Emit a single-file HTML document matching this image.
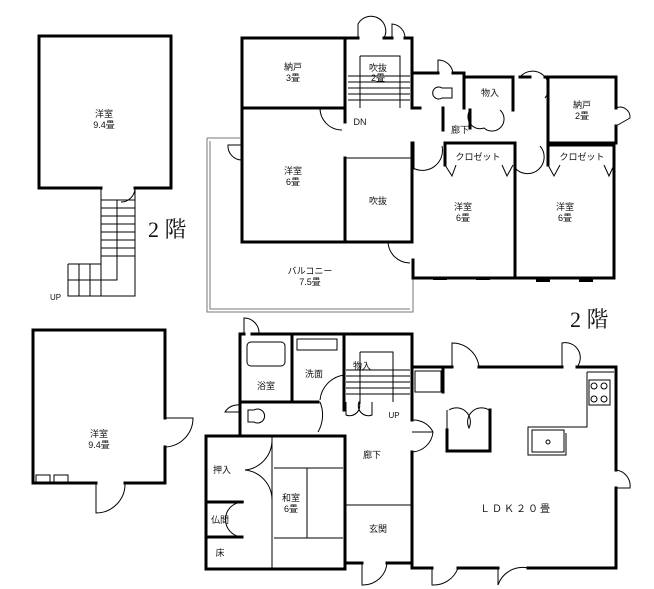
<!DOCTYPE html>
<html><head><meta charset="utf-8"><style>
html,body{margin:0;padding:0;background:#fff;}
svg{display:block;}
text{font-family:"Liberation Sans","Noto Sans CJK JP",sans-serif;fill:#111;}
text.big{font-family:"Liberation Serif","Noto Serif CJK SC",serif;}
.w{stroke:#000;stroke-width:3;fill:none;stroke-linecap:square;}
.t{stroke:#000;stroke-width:1;fill:none;}
.g{stroke:#777;stroke-width:1;fill:none;}
</style></head><body>
<svg width="654" height="589" viewBox="0 0 654 589" xmlns="http://www.w3.org/2000/svg">
<rect width="654" height="589" fill="#fff"/>

<!-- Left top plan -->
<path class="w" d="M101,188 L39,188 L39,36 L171,36 L171,188 L135,188"/>
<path class="t" d="M101,188 V296 H135 V188"/>
<path class="t" d="M68,264 H101 M68,264 V296 H101 M79,264 V296 M90,264 V296 M68,280 H101"/>
<path class="t" d="M101,200 H135 M101,208 H135 M101,216 H135 M101,224 H135 M101,232 H135 M101,240 H135 M101,248 H135 M101,256 H135 M117,200 V280 H101"/>
<path class="t" d="M135,188 A14,14 0 0 1 121,202"/>
<text x="104" y="117" font-size="9" text-anchor="middle">洋室</text>
<text x="104" y="128" font-size="9" text-anchor="middle">9.4畳</text>
<text x="50" y="300" font-size="8">UP</text>
<text class="big" x="148" y="237" font-size="22">2 階</text>

<!-- Left bottom plan -->
<path class="w" d="M165,447 V483 H125 M96,483 H33 V330 H165 V418"/>
<path class="t" d="M165,418 H193 A29,29 0 0 1 165,447"/>
<path class="t" d="M96,483 V513 A29,29 0 0 0 125,483"/>
<rect class="t" x="36" y="475" width="14" height="9"/><rect class="t" x="54" y="475" width="14" height="9"/>
<text x="99" y="437" font-size="9" text-anchor="middle">洋室</text>
<text x="99" y="448" font-size="9" text-anchor="middle">9.4畳</text>

<!-- 2F main -->
<path class="g" d="M207,138 V312 H413 V262 M210,141 V309 H410"/>
<path class="g" d="M207,138 H240"/>
<path class="w" d="M242,38 H345 V108 M242,38 V242 H345 M242,108 H345"/>
<path class="w" d="M345,38 H358 M384,38 H392 M405,38 H412 V108"/>
<path class="t" d="M358,38 V24 A14,14 0 0 1 384,38 M392,38 V24 A14,14 0 0 1 405,38"/>
<path class="w" d="M345,158 V242 H412 V143 M345,122 V108"/>
<path class="t" d="M346,158 H412"/>
<path class="t" d="M360,56 H400 V108 M348,76 H410 M348,82 H410 M348,88 H410 M348,94 H410 M348,100 H410 M360,56 V108"/>
<text x="378" y="71" font-size="9" text-anchor="middle">吹抜</text>
<text x="378" y="81" font-size="9" text-anchor="middle">2畳</text>
<text x="293" y="70" font-size="9" text-anchor="middle">納戸</text>
<text x="293" y="81" font-size="9" text-anchor="middle">3畳</text>
<text x="293" y="174" font-size="9" text-anchor="middle">洋室</text>
<text x="293" y="185" font-size="9" text-anchor="middle">6畳</text>
<text x="378" y="204" font-size="9" text-anchor="middle">吹抜</text>
<text x="360" y="125" font-size="9" text-anchor="middle">DN</text>
<text x="310" y="274" font-size="9" text-anchor="middle">バルコニー</text>
<text x="310" y="285" font-size="9" text-anchor="middle">7.5畳</text>
<path class="t" d="M320,108 A22,22 0 0 0 342,130"/>
<path class="t" d="M242,145 H228 A14,14 0 0 0 242,160"/>
<!-- toilet/storage/corridor -->
<path class="w" d="M412,73 H438 M453,73 H464 V108 M412,108 H420"/>
<path class="t" d="M438,73 V60 A15,15 0 0 1 453,73"/>
<path class="w" d="M464,77 H513 V110 M443,108 V130 M470,110 V128"/>
<path class="t" d="M442,88 a6,6 0 1 0 0,10 h10 v-10 z"/>
<path class="t" d="M470,110 A12,12 0 0 0 484,128 A12,12 0 0 0 500,110"/>
<text x="490" y="96" font-size="9" text-anchor="middle">物入</text>
<text x="460" y="133" font-size="9" text-anchor="middle">廊下</text>
<path class="w" d="M520,77 H530 M545,77 H616 V108 M616,126 V143 H548 V77"/>
<path class="t" d="M520,77 A15,15 0 0 1 545,98 M616,108 A10,10 0 0 1 630,118 L616,126"/>
<text x="582" y="108" font-size="9" text-anchor="middle">納戸</text>
<text x="582" y="119" font-size="9" text-anchor="middle">2畳</text>
<!-- bedrooms -->
<path class="w" d="M413,143 V168 M413,260 V278 H614 V145 M445,143 H515 V278 M548,145 H614"/>
<path class="w" d="M445,143 V165 M548,145 V165"/>
<path class="t" d="M445,165 L452,176 L456,165 M502,165 L507,176 L513,165 M548,165 L554,176 L560,165 M604,165 L609,176 L614,165"/>
<path class="t" d="M413,168 A20,20 0 0 0 442,146 M515,168 A16,16 0 0 0 540,146 M413,242 H388 A22,22 0 0 0 410,263"/>
<text x="478" y="160" font-size="9" text-anchor="middle">クロゼット</text>
<text x="582" y="160" font-size="9" text-anchor="middle">クロゼット</text>
<text x="463" y="210" font-size="9" text-anchor="middle">洋室</text>
<text x="463" y="221" font-size="9" text-anchor="middle">6畳</text>
<text x="565" y="210" font-size="9" text-anchor="middle">洋室</text>
<text x="565" y="221" font-size="9" text-anchor="middle">6畳</text>
<rect x="433" y="277" width="14" height="3" fill="#000"/><rect x="476" y="277" width="14" height="3" fill="#000"/>
<rect x="536" y="279" width="14" height="3" fill="#000"/><rect x="579" y="279" width="14" height="3" fill="#000"/>
<text class="big" x="570" y="327" font-size="22">2 階</text>

<!-- 1F -->
<path class="w" d="M252,334 H344 V375 M318,402 H240 V334 H244 M292,334 V402"/>
<path class="t" d="M244,334 V318 A15,15 0 0 1 259,334"/>
<rect class="t" x="247" y="342" width="38" height="24" rx="4"/>
<rect class="t" x="297" y="339" width="40" height="11"/>
<path class="t" d="M344,375 A28,28 0 0 0 320,400 M320,402 A34,34 0 0 1 318,432"/>
<text x="266" y="389" font-size="9" text-anchor="middle">浴室</text>
<text x="314" y="377" font-size="9" text-anchor="middle">洗面</text>
<path class="w" d="M344,334 H412 V420 M344,334 V402 M344,410 V402"/>
<path class="t" d="M346,370 H410 M346,376 H410 M346,382 H410 M346,388 H410 M346,394 H410 M360,352 H393 V402 M360,352 V404"/>
<path class="t" d="M346,402 V415 A10,10 0 0 0 359,402 A10,10 0 0 0 372,415 V402"/>
<text x="362" y="369" font-size="9" text-anchor="middle">物入</text>
<text x="394" y="418" font-size="8" text-anchor="middle">UP</text>
<path class="w" d="M240,405 V436"/>
<path class="t" d="M240,412 H225 A15,15 0 0 1 240,405 M248,410 h6 a7,7 0 1 1 0,12 h-6 z"/>
<path class="w" d="M206,436 H345 V505 M206,436 V569 H345 V503 M206,502 H242 M206,537 H242"/>
<path class="t" d="M272,436 V569 M274,468 H343 M307,468 V538 M274,538 H343 M244,502 A10,10 0 0 0 242,537"/>
<path class="t" d="M272,440 A30,30 0 0 1 245,470 M272,500 A30,30 0 0 0 245,470"/>
<text x="222" y="473" font-size="9" text-anchor="middle">押入</text>
<text x="220" y="523" font-size="9" text-anchor="middle">仏間</text>
<text x="220" y="556" font-size="9" text-anchor="middle">床</text>
<text x="291" y="501" font-size="9" text-anchor="middle">和室</text>
<text x="291" y="512" font-size="9" text-anchor="middle">6畳</text>
<text x="372" y="458" font-size="9" text-anchor="middle">廊下</text>
<path class="t" d="M345,505 H412"/>
<path class="w" d="M345,563 H362 M387,563 H412"/>
<path class="t" d="M362,563 V585 A24,24 0 0 0 387,563"/>
<text x="378" y="532" font-size="9" text-anchor="middle">玄関</text>
<!-- LDK -->
<path class="w" d="M412,334 V420 M412,452 V568 H432 M458,568 H498 M528,568 H616 V488 M616,470 V367 H577 M562,367 H479 M452,367 H413"/>
<path class="t" d="M452,367 V343 A27,27 0 0 1 479,367 M562,367 V343 A15,15 0 0 1 577,367 M616,488 H630 A16,16 0 0 0 616,470"/>
<path class="t" d="M432,568 V585 A26,26 0 0 0 458,568 M498,568 V585 A26,26 0 0 1 528,568"/>
<path class="t" d="M412,420 A22,22 0 0 1 433,432 A22,22 0 0 1 412,452 M412,432 H433"/>
<path class="w" d="M443,367 V392"/>
<rect class="t" x="415" y="371" width="26" height="21"/>
<path class="w" d="M447,430 V451 H490 V410"/>
<path class="t" d="M447,410 V430 M449,410 A14,14 0 0 1 469,428 A14,14 0 0 1 489,410"/>
<path class="t" d="M587,372 H614 M587,372 V427 H528 V455 H566 V433"/>
<rect class="t" x="532" y="430" width="32" height="22"/>
<circle cx="548" cy="442" r="2" class="t"/>
<rect class="t" x="589" y="380" width="21" height="25"/>
<circle cx="594" cy="386" r="3" class="t"/><circle cx="604" cy="386" r="3" class="t"/>
<circle cx="594" cy="399" r="3" class="t"/><circle cx="604" cy="399" r="3" class="t"/>
<text x="516" y="512" font-size="10" text-anchor="middle" letter-spacing="2">ＬＤＫ２０畳</text>
</svg>
</body></html>
